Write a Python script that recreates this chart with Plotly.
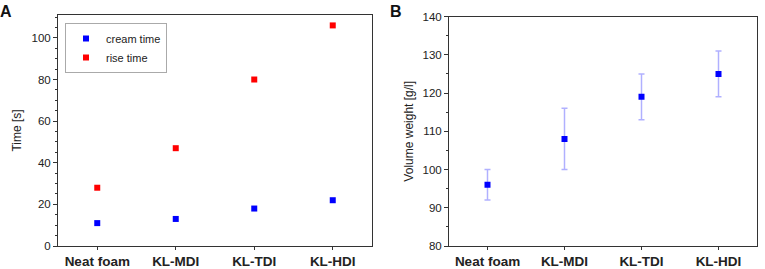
import plotly.graph_objects as go

categories = ["Neat foam", "KL-MDI", "KL-TDI", "KL-HDI"]
cream_time = [11, 13, 18, 22]
rise_time = [28, 47, 80, 106]
volume_weight = [96, 108, 119, 125]
volume_err = [4, 8, 6, 6]

W, H = 765, 269
x_idx = list(range(len(categories)))
FONT = "Liberation Sans, Arial, sans-serif"

fig = go.Figure()
fig.add_trace(go.Scatter(x=x_idx, y=cream_time, mode="markers", name="cream time",
                         marker=dict(symbol="square", size=6, color="#0000FF"),
                         xaxis="x", yaxis="y"))
fig.add_trace(go.Scatter(x=x_idx, y=rise_time, mode="markers", name="rise time",
                         marker=dict(symbol="square", size=6, color="#FF0000"),
                         xaxis="x", yaxis="y"))
fig.add_trace(go.Scatter(x=x_idx, y=volume_weight, mode="markers", showlegend=False,
                         marker=dict(symbol="square", size=6, color="#0000FF"),
                         error_y=dict(type="data", array=volume_err, visible=True,
                                      color="rgba(80,80,255,0.45)", thickness=1.5, width=3),
                         xaxis="x2", yaxis="y2"))

common_x = dict(tickmode="array", tickvals=x_idx, ticktext=categories,
                range=[-0.5, 3.5], showline=True, linecolor="#333", linewidth=1,
                mirror=True, ticks="outside", ticklen=3, tickcolor="#333",
                showgrid=False, zeroline=False, automargin=False,
                tickfont=dict(family=FONT, size=13.5, color="#222", weight="bold"))
common_y = dict(showline=True, linecolor="#333", linewidth=1, mirror=True,
                ticks="outside", ticklen=4, tickcolor="#333", showgrid=False,
                zeroline=False, automargin=False,
                tickfont=dict(family=FONT, size=11.5, color="#222"),
                minor=dict(ticks="outside", ticklen=2, tickcolor="#333"))

fig.update_layout(
    width=W, height=H, margin=dict(l=0, r=0, t=0, b=0, autoexpand=False),
    plot_bgcolor="white", paper_bgcolor="white",
    font=dict(family=FONT, color="#222"),
    xaxis=dict(domain=[58/W, 372/W], anchor="y", **common_x),
    yaxis=dict(domain=[(H-246)/H, (H-15)/H], anchor="x", range=[0, 111],
               tickvals=[0, 20, 40, 60, 80, 100],
               title=dict(text="Time [s]", font=dict(family=FONT, size=12, color="#222"), standoff=7),
               **common_y),
    xaxis2=dict(domain=[449/W, 757/W], anchor="y2", **common_x),
    yaxis2=dict(domain=[(H-246)/H, (H-16.5)/H], anchor="x2", range=[80, 140],
                tickvals=[80, 90, 100, 110, 120, 130, 140],
                title=dict(text="Volume weight [g/l]", font=dict(family=FONT, size=12, color="#222"), standoff=6),
                **common_y),
    legend=dict(x=65/W, y=1-23/H, xanchor="left", yanchor="top",
                bordercolor="#aaa", borderwidth=1, bgcolor="white",
                font=dict(family=FONT, size=11, color="#222"),
                itemwidth=30, tracegroupgap=0),
    annotations=[
        dict(text="<b>A</b>", x=-2/W, y=1-1/H, xref="paper", yref="paper",
             xanchor="left", yanchor="top", showarrow=False,
             font=dict(family=FONT, size=16, color="#111")),
        dict(text="<b>B</b>", x=388/W, y=1-1/H, xref="paper", yref="paper",
             xanchor="left", yanchor="top", showarrow=False,
             font=dict(family=FONT, size=16, color="#111")),
    ],
)

fig.write_html("out.html", config={"displayModeBar": False},
               post_script="document.body.style.margin='0';document.body.style.padding='0';")
